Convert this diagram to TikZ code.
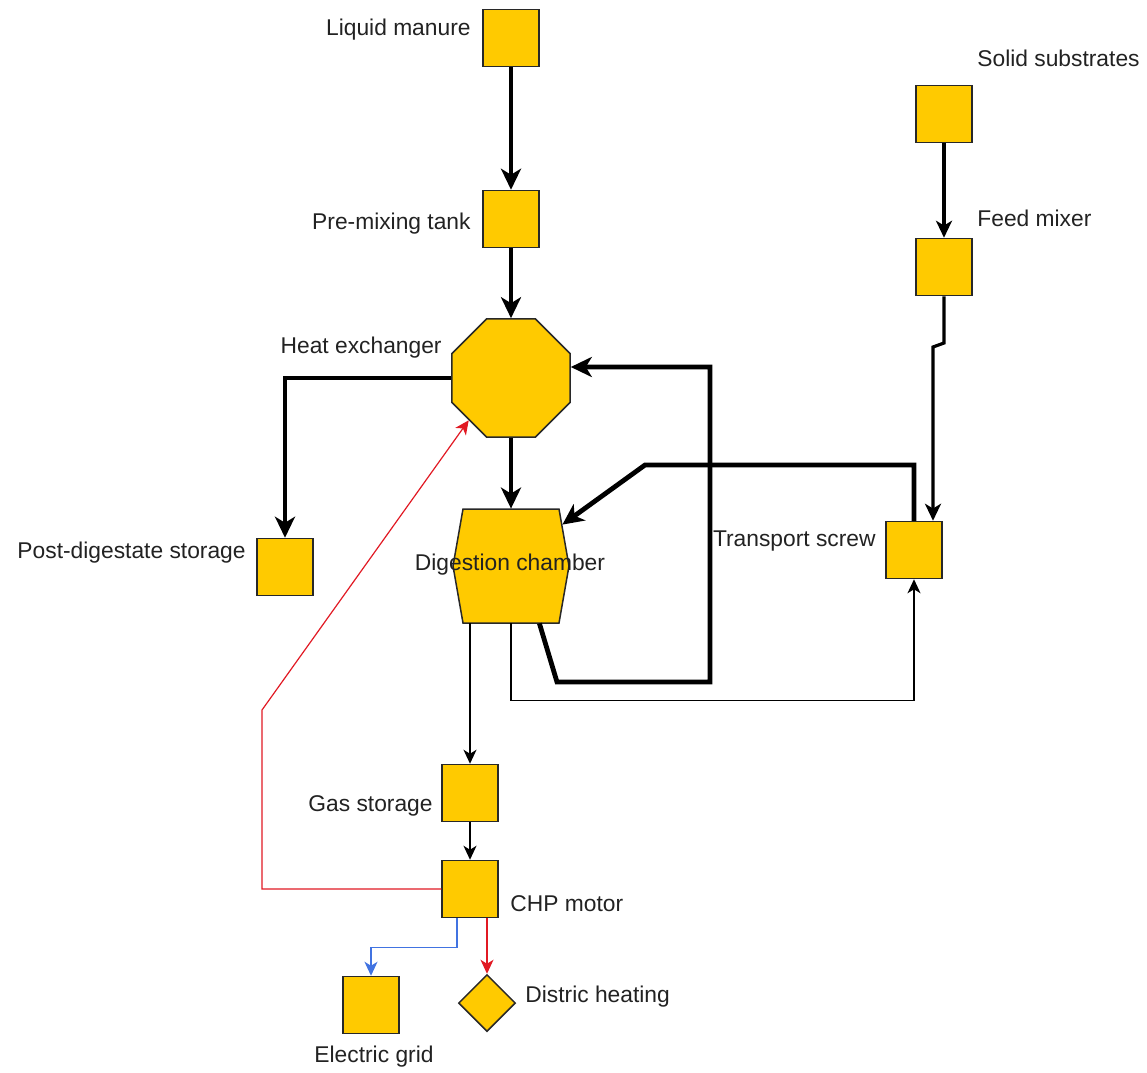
\documentclass[tikz,border=0pt]{standalone}
\usepackage{fontspec}
\setmainfont{Liberation Sans}
\usetikzlibrary{arrows.meta,shapes.geometric,calc}
\definecolor{boxfill}{RGB}{255,202,0}
\definecolor{edgec}{RGB}{40,40,40}
\definecolor{txt}{RGB}{34,34,34}
\definecolor{heatred}{RGB}{225,25,35}
\definecolor{elecblue}{RGB}{65,115,225}
\begin{document}
\begin{tikzpicture}[x=0.5pt,y=-0.5pt,
  unit/.style={draw=edgec, fill=boxfill, line width=0.75pt, minimum width=28pt, minimum height=28.5pt, inner sep=0pt},
  shapeline/.style={draw=edgec, fill=boxfill, line width=0.75pt},
  lbl/.style={font=\fontsize{11.4}{13.7}\selectfont, text=txt, inner sep=0pt},
  heavy/.style={line width=2.4pt, -{Stealth[length=10.5pt,width=10pt,inset=3pt]}},
  medium/.style={line width=1.6pt, -{Stealth[length=8.5pt,width=8pt,inset=2.4pt]}},
  thinarrow/.style={line width=0.7pt, -{Stealth[length=7pt,width=6.5pt,inset=2pt]}},
  redarrow/.style={draw=heatred, line width=0.6pt, -{Stealth[length=7pt,width=6.5pt,inset=2pt]}},
  bluearrow/.style={draw=elecblue, line width=0.6pt, -{Stealth[length=7pt,width=6.5pt,inset=2pt]}},
]
\useasboundingbox (0,0) rectangle (1147,1072);

% nodes
\node[unit] (lm) at (511,38) {};
\node[unit] (pm) at (511,219) {};
\node[shapeline, regular polygon, regular polygon sides=8, minimum size=63.9pt, inner sep=0pt] (he) at (511,378) {};
\coordinate (dcc) at (511,566);
\filldraw[shapeline] ($(dcc)+(-48,-57)$) -- ($(dcc)+(48,-57)$) -- ($(dcc)+(58,0)$) -- ($(dcc)+(48,57)$) -- ($(dcc)+(-48,57)$) -- ($(dcc)+(-58,0)$) -- cycle;
\node[inner sep=0pt, minimum width=48pt, minimum height=57pt] (dc) at (dcc) {};
\node[lbl] (dcL) at (510,565) {Digestion chamber};
\node[unit] (pd) at (285,567) {};
\node[unit] (ts) at (914,550) {};
\node[unit] (ss) at (944,114) {};
\node[unit] (fm) at (944,267) {};
\node[unit] (gs) at (470,793) {};
\node[unit] (chp) at (470,889) {};
\node[unit] (eg) at (371,1005) {};
\node[shapeline, diamond, aspect=1, minimum width=28.5pt, minimum height=28.5pt, inner sep=0pt] (dh) at (487,1003) {};

% labels
\node[lbl, anchor=east] (lmL) at (471,30) {Liquid manure};
\node[lbl, anchor=east] (pmL) at (471,224) {Pre-mixing tank};
\node[lbl, anchor=east] (heL) at (442,348) {Heat exchanger};
\node[lbl, anchor=east] (pdL) at (246,553) {Post-digestate storage};
\node[lbl, anchor=east] (tsL) at (876,541) {Transport screw};
\node[lbl, anchor=west] (ssL) at (977,58) {Solid substrates};
\node[lbl, anchor=west] (fmL) at (977,218) {Feed mixer};
\node[lbl, anchor=east] (gsL) at (433,806) {Gas storage};
\node[lbl, anchor=west] (chpL) at (510,904) {CHP motor};
\node[lbl] (egL) at (374,1057) {Electric grid};
\node[lbl, anchor=west] (dhL) at (525,997) {Distric heating};

% helper coordinates
\coordinate (r1) at (557,682);
\coordinate (r2) at (710,682);
\coordinate (t1) at (645,465);
\coordinate (j1) at (944,343);
\coordinate (j2) at (933,347);
\coordinate (rc1) at (262,710);

% connectors
\draw[heavy] (lm) -- (pm);
\draw[heavy] (pm) -- (he);
\draw[heavy] (he.south) -- (dc.north);
\draw[heavy] (he.west) -| (pd.north);
\draw[heavy] ($(dc.south east)+(-20,0)$) -- (r1) -- (r2) |- ($(he.east)+(0,-11)$);
\draw[heavy] (ts.north) |- (t1) -- ($(dc.north east)+(3,16)$);
\draw[medium] (ss) -- (fm);
\draw[medium] (fm.south) -- (j1) -- (j2) -- (j2 |- ts.north);
\draw[thinarrow] (gs.north |- dc.south) -- (gs.north);
\draw[thinarrow] (dc.south) -- ++(0,77) -| (ts.south);
\draw[thinarrow] (gs) -- (chp);
\draw[redarrow] (chp.west) -| (rc1) -- (he.225);
\draw[bluearrow] ($(chp.south)+(-13,0)$) -- ++(0,29) -| (eg.north);
\draw[redarrow] (dh.north |- chp.south) -- (dh.north);
\end{tikzpicture}
\end{document}
